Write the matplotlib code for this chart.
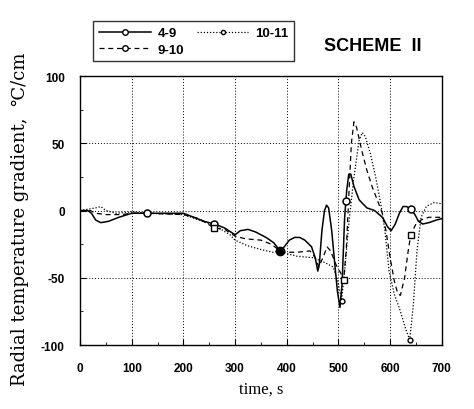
"""Radial temperature gradient vs time, scheme II."""

import matplotlib
matplotlib.use("Agg")
import matplotlib.pyplot as plt
from matplotlib.ticker import MultipleLocator

plt.rcParams["axes.unicode_minus"] = False

# series 4-9 (solid)
T_49 = [0, 15, 22, 30, 40, 55, 75, 100, 130, 160, 200, 220, 240, 260, 280, 300, 310, 325, 340, 360,
        375, 387, 395, 405, 415, 425, 435, 448, 455, 460, 463, 468, 473, 477, 481, 487, 493, 498, 503,
        507, 512, 516, 520, 524, 530, 540, 555, 570, 585, 595, 602, 610, 618, 625, 632, 640, 648, 655,
        663, 675, 690, 700]
V_49 = [0, 0, -2, -7, -9, -8, -5, -2, -2, -2, -2, -5, -8, -10, -13, -18, -15, -14, -16, -20,
        -24, -30, -27, -22, -20, -20, -22, -27, -35, -45, -40, -15, 0, 4, 2, -15, -40, -60, -72,
        -55, -5, 15, 27, 27, 18, 8, 2, 0, -5, -12, -15, -10, -2, 3, 3, 1, -3, -8,
        -10, -9, -7, -6]
MARK_T_49 = [130, 260, 387, 514, 640]
MARK_V_49 = [-2, -10, -30, 7, 1]

# series 9-10 (dashed)
T_910 = [0, 20, 30, 50, 80, 100, 130, 200, 230, 260, 280, 300, 320, 350, 370, 387, 400, 420, 445,
         455, 462, 470, 478, 485, 495, 505, 510, 515, 520, 525, 530, 535, 545, 555, 565, 575, 585,
         592, 600, 608, 615, 620, 628, 635, 640, 650, 660, 675, 690, 700]
V_910 = [0, 0, -2, -3, -3, -2, -2, -3, -6, -13, -14, -19, -21, -22, -25, -30, -31, -31, -30,
         -35, -42, -35, -27, -30, -40, -47, -52, -30, 10, 50, 66, 62, 45, 30, 18, 8, -2,
         -15, -35, -52, -62, -63, -50, -30, -18, -10, -7, -5, -5, -5]
MARK_T_910 = [260, 510, 640]
MARK_V_910 = [-13, -52, -18]

# series 10-11 (dotted)
T_1011 = [0, 30, 40, 50, 70, 100, 130, 200, 230, 260, 290, 300, 323, 350, 373, 387, 400, 420, 450,
          470, 490, 500, 506, 512, 520, 530, 540, 546, 552, 562, 572, 582, 590, 598, 608, 620, 630,
          638, 645, 652, 660, 670, 685, 700]
V_1011 = [0, 2, 3, 0, -2, -1, -2, -3, -7, -11, -18, -22, -26, -29, -31, -30, -32, -34, -35,
          -38, -42, -55, -67, -45, -10, 25, 52, 58, 55, 42, 25, 5, -15, -45, -62, -75, -88,
          -96, -70, -30, -5, 3, 6, 5]
MARK_T_1011 = [506, 638]
MARK_V_1011 = [-67, -96]

X_TICKS = [0, 100, 200, 300, 400, 500, 600, 700]
Y_TICKS = [-100, -50, 0, 50, 100]

SERIF = ["Liberation Serif", "DejaVu Serif"]

fig = plt.figure(figsize=(4.74, 4.10), dpi=100)
ax = fig.add_axes([0.169, 0.156, 0.763, 0.656])

ax.plot(T_49, V_49, color="black", lw=1.1, ls="-")
ax.plot(T_910, V_910, color="black", lw=0.9, ls=(0, (4, 3)))
ax.plot(T_1011, V_1011, color="black", lw=0.9, ls=(0, (1, 1.5)))

ax.plot(MARK_T_49, MARK_V_49, ls="none", marker="o", ms=5, mfc="white", mec="black", mew=1.1)
ax.plot(MARK_T_910, MARK_V_910, ls="none", marker="s", ms=5, mfc="white", mec="black", mew=1.0)
ax.plot(MARK_T_1011, MARK_V_1011, ls="none", marker="o", ms=3.5, mfc="white", mec="black", mew=1.0)
ax.plot([387], [-30], ls="none", marker="o", ms=6, color="black")

# legend proxies with a marker in the middle of the line
h1, = ax.plot([], [], color="black", lw=1.1, ls="-", marker="o", ms=4, mfc="white", mec="black")
h2, = ax.plot([], [], color="black", lw=0.9, ls=(0, (4, 3)), marker="o", ms=4, mfc="white", mec="black")
h3, = ax.plot([], [], color="black", lw=0.9, ls=(0, (1, 1.5)), marker="o", ms=3, mfc="white", mec="black")
leg = fig.legend([h1, h2, h3], ["4-9", "9-10", "10-11"], ncol=2, loc="upper left",
                 bbox_to_anchor=(0.183, 0.962), fancybox=False, edgecolor="black",
                 prop={"family": "Liberation Sans", "size": 9.5, "weight": "bold"},
                 handlelength=3.9, handletextpad=0.5, columnspacing=1.0, borderpad=0.45,
                 labelspacing=0.3)
leg.get_frame().set_linewidth(1.0)

fig.text(0.683, 0.876, "SCHEME  II", fontsize=13, fontweight="bold", family="Liberation Sans")

ax.set_xlim(0, 700)
ax.set_ylim(-100, 100)
ax.set_xticks(X_TICKS)
ax.set_yticks(Y_TICKS)
ax.xaxis.set_minor_locator(MultipleLocator(50))
ax.yaxis.set_minor_locator(MultipleLocator(25))
ax.tick_params(which="both", direction="in", top=False, right=False)
ax.tick_params(which="major", length=4, labelsize=8.5)
ax.tick_params(axis="x", which="major", pad=12)
ax.tick_params(axis="y", which="major", pad=11)
ax.tick_params(which="minor", length=2.5)
for lab in ax.get_xticklabels() + ax.get_yticklabels():
    lab.set_family("Liberation Sans")
    lab.set_fontweight("bold")

ax.grid(True, which="major", ls=(0, (1, 2)), color="black", lw=0.7)
for sp in ax.spines.values():
    sp.set_linewidth(1.0)

ax.set_xlabel("time, s", family=SERIF, fontsize=12, labelpad=5)
ax.set_ylabel("Radial temperature gradient,  \u2103/cm", family=["DejaVu Serif"],
              fontsize=13, labelpad=8)
ax.yaxis.set_label_coords(-0.14, 0.47)

fig.savefig("out.png", dpi=100)
